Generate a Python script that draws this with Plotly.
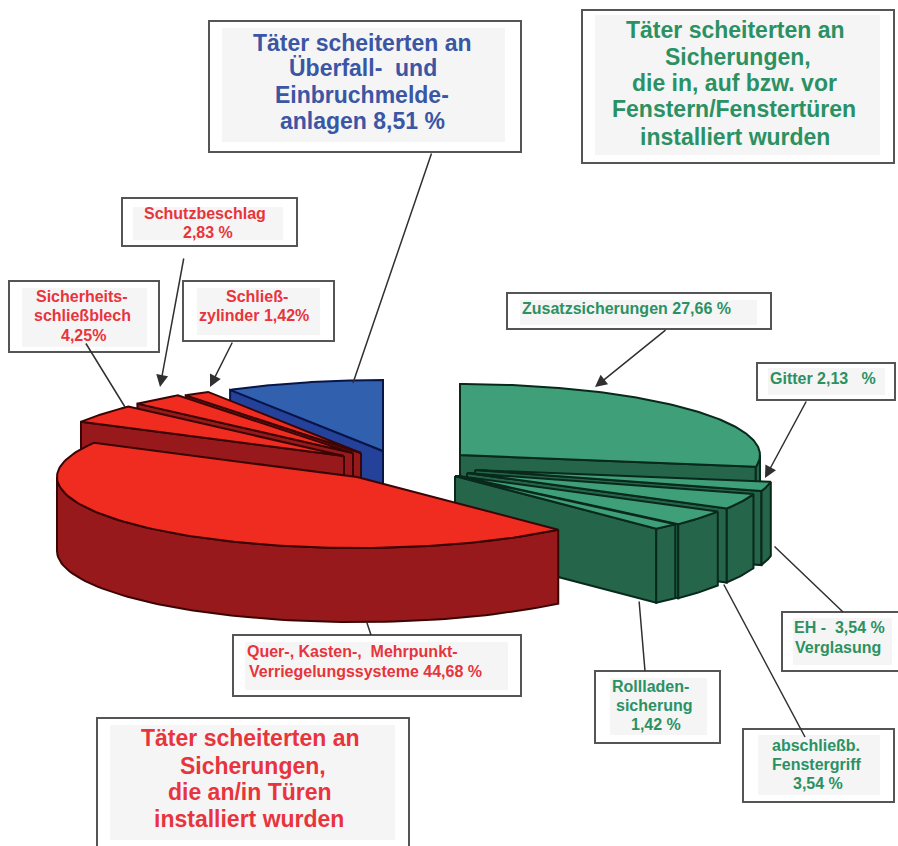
import numpy as np
import plotly.graph_objects as go

# ---- data -------------------------------------------------------------
slice_names = ["Zusatzsicherungen", "Gitter", "EH-Verglasung", "abschließb. Fenstergriff",
               "Rollladensicherung", "Quer-, Kasten-, Mehrpunkt-Verriegelungssysteme",
               "Sicherheitsschließblech", "Schutzbeschlag", "Schließzylinder",
               "Überfall- und Einbruchmeldeanlagen"]
slice_values = [27.66, 2.13, 3.54, 3.54, 1.42, 44.68, 4.25, 2.83, 1.42, 8.51]

# ---- pie geometry (pixel space of the axes) ---------------------------
RX, RY, DEPTH = 300, 71, 74
slice_centres = [(460, 455), (475, 470), (467, 473), (458, 476), (455, 476),
                 (357, 477), (344, 456), (353, 453), (361, 453), (383, 451)]
GREEN = ("#3f9f78", "#25654a", "#08291c")
RED = ("#f02b20", "#98191b", "#3a0505")
BLUE = ("#3160ae", "#24429a", "#081548")
slice_styles = [GREEN] * 5 + [RED] * 4 + [BLUE]
draw_order = [0, 1, 2, 3, 4, 9, 8, 7, 6, 5]

total = sum(slice_values)
scale = 360.0 / total
ends = np.cumsum(slice_values) * scale
starts = ends - np.array(slice_values) * scale
ends[-1] = 360.0


def pt(c, a, dz=0.0):
    t = np.radians(a)
    return c[0] + RX * np.sin(t), c[1] - RY * np.cos(t) + dz


def poly(fig, xs, ys, fill, line):
    fig.add_trace(go.Scatter(x=list(xs) + [xs[0]], y=list(ys) + [ys[0]], mode="lines",
                             fill="toself", fillcolor=fill,
                             line=dict(color=line, width=2), hoverinfo="skip",
                             showlegend=False))


def cut_face(fig, c, a, style):
    x, y = pt(c, a)
    poly(fig, [c[0], x, x, c[0]], [c[1], y, y + DEPTH, c[1] + DEPTH], style[1], style[2])


fig = go.Figure()
for i in draw_order:
    c, s, e, st = slice_centres[i], starts[i], ends[i], slice_styles[i]
    if np.sin(np.radians(s)) < 0:
        cut_face(fig, c, s, st)
    if np.sin(np.radians(e)) > 1e-6:
        cut_face(fig, c, e, st)
    w0, w1 = max(s, 90), min(e, 270)
    if w1 > w0:
        a = np.linspace(w0, w1, 80)
        tx, ty = pt(c, a)
        bx, by = pt(c, a, DEPTH)
        poly(fig, list(tx) + list(bx[::-1]), list(ty) + list(by[::-1]), st[1], st[2])
    a = np.linspace(s, e, 120)
    x, y = pt(c, a)
    poly(fig, [c[0]] + list(x), [c[1]] + list(y), st[0], st[2])

# ---- callout boxes ----------------------------------------------------
BLUE_T, GREEN_T, RED_T = "#3a56a4", "#2b9163", "#e8343c"
TITLE, SMALL = 23, 16
# outer box, inner grey panel, colour, font size, [(text, x centre, y centre), ...]
boxes = [
    ((209, 21, 521, 152), (222, 28, 505, 142), BLUE_T, TITLE,
     [("Täter scheiterten an", 362, 43), ("Überfall-\u00a0 und", 363, 68),
      ("Einbruchmelde-", 362, 95), ("anlagen 8,51 %", 362, 121)]),
    ((582, 10, 894, 163), (595, 15, 880, 155), GREEN_T, TITLE,
     [("Täter scheiterten an", 735, 30), ("Sicherungen,", 738, 57), ("die in, auf bzw. vor", 734, 83),
      ("Fenstern/Fenstertüren", 734, 109), ("installiert wurden", 735, 137)]),
    ((122, 198, 297, 246), (133, 207, 283, 240), RED_T, SMALL,
     [("Schutzbeschlag", 205, 213), ("2,83 %", 208, 232)]),
    ((9, 281, 159, 352), (22, 288, 147, 347), RED_T, SMALL,
     [("Sicherheits-", 82, 296), ("schließblech", 82, 315), ("4,25%", 83, 335)]),
    ((183, 281, 334, 341), (197, 288, 320, 335), RED_T, SMALL,
     [("Schließ-", 257, 296), ("zylinder 1,42%", 254, 315)]),
    ((507, 293, 771, 329), (520, 300, 757, 325), GREEN_T, SMALL,
     [("Zusatzsicherungen 27,66 %", 626, 308)]),
    ((757, 363, 895, 400), (768, 368, 885, 395), GREEN_T, SMALL,
     [("Gitter 2,13 \u00a0 %", 823, 378)]),
    ((233, 635, 521, 696), (245, 642, 508, 690), RED_T, SMALL,
     [("Quer-, Kasten-,\u00a0 Mehrpunkt-", 352, 651), ("Verriegelungssysteme 44,68 %", 365, 671)]),
    ((97, 718, 409, 870), (110, 725, 395, 840), RED_T, TITLE,
     [("Täter scheiterten an", 250, 738), ("Sicherungen,", 253, 766), ("die an/in Türen", 250, 792),
      ("installiert wurden", 249, 819)]),
    ((595, 671, 720, 743), (610, 678, 707, 735), GREEN_T, SMALL,
     [("Rollladen-", 650, 686), ("sicherung", 654, 705), ("1,42 %", 656, 724)]),
    ((743, 729, 894, 802), (758, 735, 880, 795), GREEN_T, SMALL,
     [("abschließb.", 816, 745), ("Fenstergriff", 817, 764), ("3,54 %", 818, 783)]),
    ((782, 612, 905, 671), (793, 618, 892, 665), GREEN_T, SMALL,
     [("EH - \u00a03,54 %", 839, 627), ("Verglasung", 838, 647)]),
]
shapes, annotations = [], []
for outer, inner, colour, size, lines in boxes:
    shapes.append(dict(type="rect", x0=outer[0], y0=outer[1], x1=outer[2], y1=outer[3],
                       fillcolor="white", line=dict(color="#555555", width=2), layer="above"))
    shapes.append(dict(type="rect", x0=inner[0], y0=inner[1], x1=inner[2], y1=inner[3],
                       fillcolor="#f5f5f5", line=dict(width=0), layer="above"))
    for text, tx, ty in lines:
        annotations.append(dict(x=tx, y=ty, text="<b>" + text + "</b>", showarrow=False,
                                xanchor="center", yanchor="middle", align="center",
                                font=dict(family="Liberation Sans", size=size, color=colour)))

# leader lines: (from x, from y, to x, to y, arrow head?)
leaders = [
    (432, 152, 353, 383, False), (184, 257, 160, 387, True), (233, 341, 210, 387, True),
    (85, 342, 125, 407, False), (667, 329, 595, 387, True), (807, 400, 765, 478, True),
    (773, 545, 843, 612, False), (723, 583, 805, 737, False), (639, 600, 645, 671, False),
    (366, 620, 371, 635, False),
]
for x0, y0, x1, y1, head in leaders:
    annotations.append(dict(x=x1, y=y1, ax=x0, ay=y0, xref="x", yref="y", axref="x", ayref="y", text="",
                            showarrow=True, arrowhead=2 if head else 0, arrowsize=1.6 if head else 1,
                            arrowwidth=1.5, arrowcolor="#303030"))

fig.update_layout(
    width=898, height=846, margin=dict(l=0, r=0, t=0, b=0),
    paper_bgcolor="white", plot_bgcolor="white", showlegend=False,
    xaxis=dict(range=[0, 898], visible=False, fixedrange=True),
    yaxis=dict(range=[846, 0], visible=False, fixedrange=True),
    shapes=shapes, annotations=annotations,
)
fig.write_html("out.html", config={"displayModeBar": False},
               post_script="document.body.style.margin='0';document.body.style.overflow='hidden';")
